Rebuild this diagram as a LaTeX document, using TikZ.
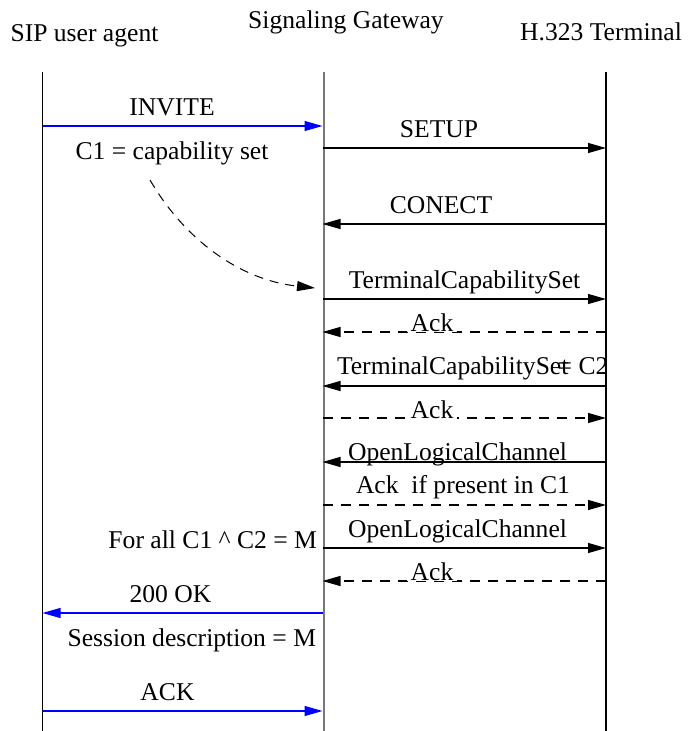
\documentclass[tikz,border=0pt]{standalone}
\usepackage{fontspec}
\setmainfont{Liberation Serif}
\usetikzlibrary{arrows.meta}

\definecolor{gwgray}{RGB}{120,120,120}
\definecolor{sipblue}{RGB}{0,0,255}

\begin{document}
\begin{tikzpicture}[x=1pt,y=-1pt,
  every node/.style={inner sep=0pt,outer sep=0pt,font=\fontsize{25.6}{30}\selectfont},
  lbl/.style={anchor=base},
  ackl/.style={anchor=base,fill=white,inner xsep=4pt,inner ysep=1pt},
  life/.style={line width=1.3pt,black},
  gwlife/.style={line width=2pt,gwgray},
  msg/.style={line width=1.2pt,-{Triangle[length=18pt,width=10pt]}},
  sipmsg/.style={msg,sipblue},
  ackmsg/.style={msg,dash pattern=on 10pt off 8pt},
  hint/.style={line width=1pt,dash pattern=on 9pt off 7pt,-{Triangle[length=18pt,width=10pt]}}]

\useasboundingbox (0,0) rectangle (688,731);

% entity titles
\node[lbl] (tsip) at (84.5,41) {SIP user agent};
\node[lbl] (tgw)  at (346,28)  {Signaling Gateway};
\node[lbl] (th)   at (601,40)  {H.323 Terminal};

% lifelines
\coordinate (sipT) at (42.5,72);  \coordinate (sipB) at (42.5,731);
\coordinate (gwT)  at (323.5,72); \coordinate (gwB)  at (323.5,731);
\coordinate (hT)   at (606,72);   \coordinate (hB)   at (606,731);
\draw[life]   (sipT) -- (sipB);
\draw[gwlife] (gwT)  -- (gwB);
\draw[life]   (hT)   -- (hB);

% message end points on the lifelines
\foreach \n/\y in {1/126,2/148,3/224,4/299,5/332,6/386,7/418,8/462,9/505,10/548,11/581,12/613,13/711}{
  \coordinate (s\n) at (42.5,\y);
  \coordinate (g\n) at (322.5,\y);
  \coordinate (h\n) at (606,\y);
}

% SIP side: INVITE
\draw[sipmsg] (s1) -- (g1);
\node[lbl] (invite) at (172,115) {INVITE};
\node[lbl] (cap) at (172,159) {C1 = capability set};

% H.323 call setup
\draw[msg] (g2) -- (h2);
\node[lbl] (setup) at (439,137) {SETUP};
\draw[msg] (h3) -- (g3);
\node[lbl] (conect) at (441,213) {CONECT};

% capability exchange
\coordinate (hintA) at (150,180);
\coordinate (hintB) at (315,288);
\draw[hint] (hintA) .. controls (185,240) and (240,280) .. (hintB);

\draw[msg] (g4) -- (h4);
\node[lbl] (tcs) at (464.5,288) {TerminalCapabilitySet};
\draw[ackmsg] (h5) -- (g5);
\node[ackl] (ack1) at (432,331) {Ack};

\draw[msg] (h6) -- (g6);
\node[anchor=base west] (tcs2) at (337,374) {TerminalCapabilitySet\kern-0.42em= C2};
\draw[ackmsg] (g7) -- (h7);
\node[ackl] (ack2) at (432,418) {Ack};

% logical channels
\draw[msg] (h8) -- (g8);
\node[lbl] (olc1) at (457.5,460) {OpenLogicalChannel};
\draw[ackmsg] (g9) -- (h9);
\node[lbl] (ackc1) at (463,493) {Ack~ if present in C1};

\draw[msg] (g10) -- (h10);
\node[lbl] (olc2) at (457.5,537) {OpenLogicalChannel};
\node[anchor=base east] (forall) at (317,548) {For all C1 \textasciicircum{} C2 = M};
\draw[ackmsg] (h11) -- (g11);
\node[ackl] (ack3) at (432,580) {Ack};

% SIP side: answer and ACK
\draw[sipmsg] (g12) -- (s12);
\node[lbl] (ok) at (170.5,602) {200 OK};
\node[anchor=base east] (sdp) at (316,646) {Session description = M};
\draw[sipmsg] (s13) -- (g13);
\node[lbl] (ack) at (167.5,700) {ACK};

\end{tikzpicture}
\end{document}
